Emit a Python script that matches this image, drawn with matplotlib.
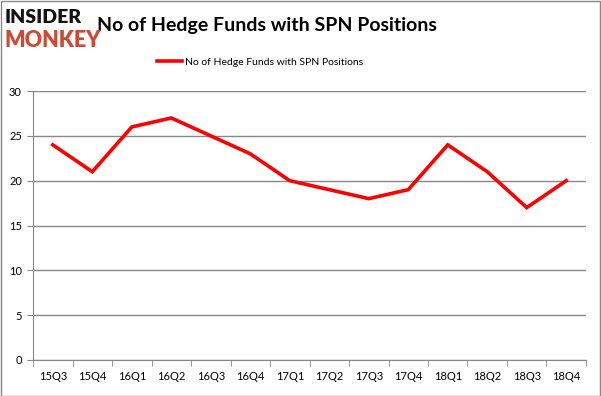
import matplotlib
matplotlib.use("Agg")
from matplotlib import pyplot as plt
from matplotlib.ticker import FixedLocator

quarters = ["15Q3", "15Q4", "16Q1", "16Q2", "16Q3", "16Q4", "17Q1",
            "17Q2", "17Q3", "17Q4", "18Q1", "18Q2", "18Q3", "18Q4"]
hedge_funds = [24, 21, 26, 27, 25, 23, 20, 19, 18, 19, 24, 21, 17, 20]
y_ticks = [0, 5, 10, 15, 20, 25, 30]

plt.rcParams['font.family'] = ['Lato', 'DejaVu Sans']

fig = plt.figure(figsize=(6.01, 3.96), dpi=100)
ax = fig.add_axes([0.055, 0.091, 0.92, 0.679])

x = list(range(len(quarters)))
ax.plot(x, hedge_funds, color="#ff0000", linewidth=2.6, solid_joinstyle="miter",
        label="No of Hedge Funds with SPN Positions")

ax.set_xlim(-0.5, len(quarters) - 0.5)
ax.set_ylim(0, 30)
ax.set_yticks(y_ticks)
ax.set_xticks(x)
ax.set_xticklabels(quarters)
ax.xaxis.set_minor_locator(FixedLocator([i - 0.5 for i in range(len(quarters) + 1)]))
ax.tick_params(axis="x", which="major", length=0, pad=8, labelsize=8)
ax.tick_params(axis="x", which="minor", length=4, color="#888888", direction="out")
ax.tick_params(axis="y", length=4, color="#888888", labelsize=8, pad=4)
ax.grid(axis="y", color="#888888", linewidth=1)
ax.set_axisbelow(True)
for side in ["top", "right"]:
    ax.spines[side].set_visible(False)
for side in ["left", "bottom"]:
    ax.spines[side].set_color("#888888")

fig.text(0.162, 0.935, "No of Hedge Funds with SPN Positions", fontsize=14,
         fontweight="bold", va="center", ha="left")
fig.text(0.008, 0.955, "INSIDER", fontsize=14, fontweight="heavy", color="#111111",
         va="center", ha="left")
fig.text(0.008, 0.897, "MONKEY", fontsize=15.5, fontweight="heavy", color="#d04a33",
         va="center", ha="left")

fig.legend(loc="center", bbox_to_anchor=(0.433, 0.843), frameon=False, fontsize=7.5,
           handlelength=2.4, handletextpad=0.3)

fig.patches.append(plt.Rectangle((0.001, 0.001), 0.997, 0.997, transform=fig.transFigure,
                                 fill=False, edgecolor="#888888", linewidth=1))

fig.savefig("out.png", dpi=100)
